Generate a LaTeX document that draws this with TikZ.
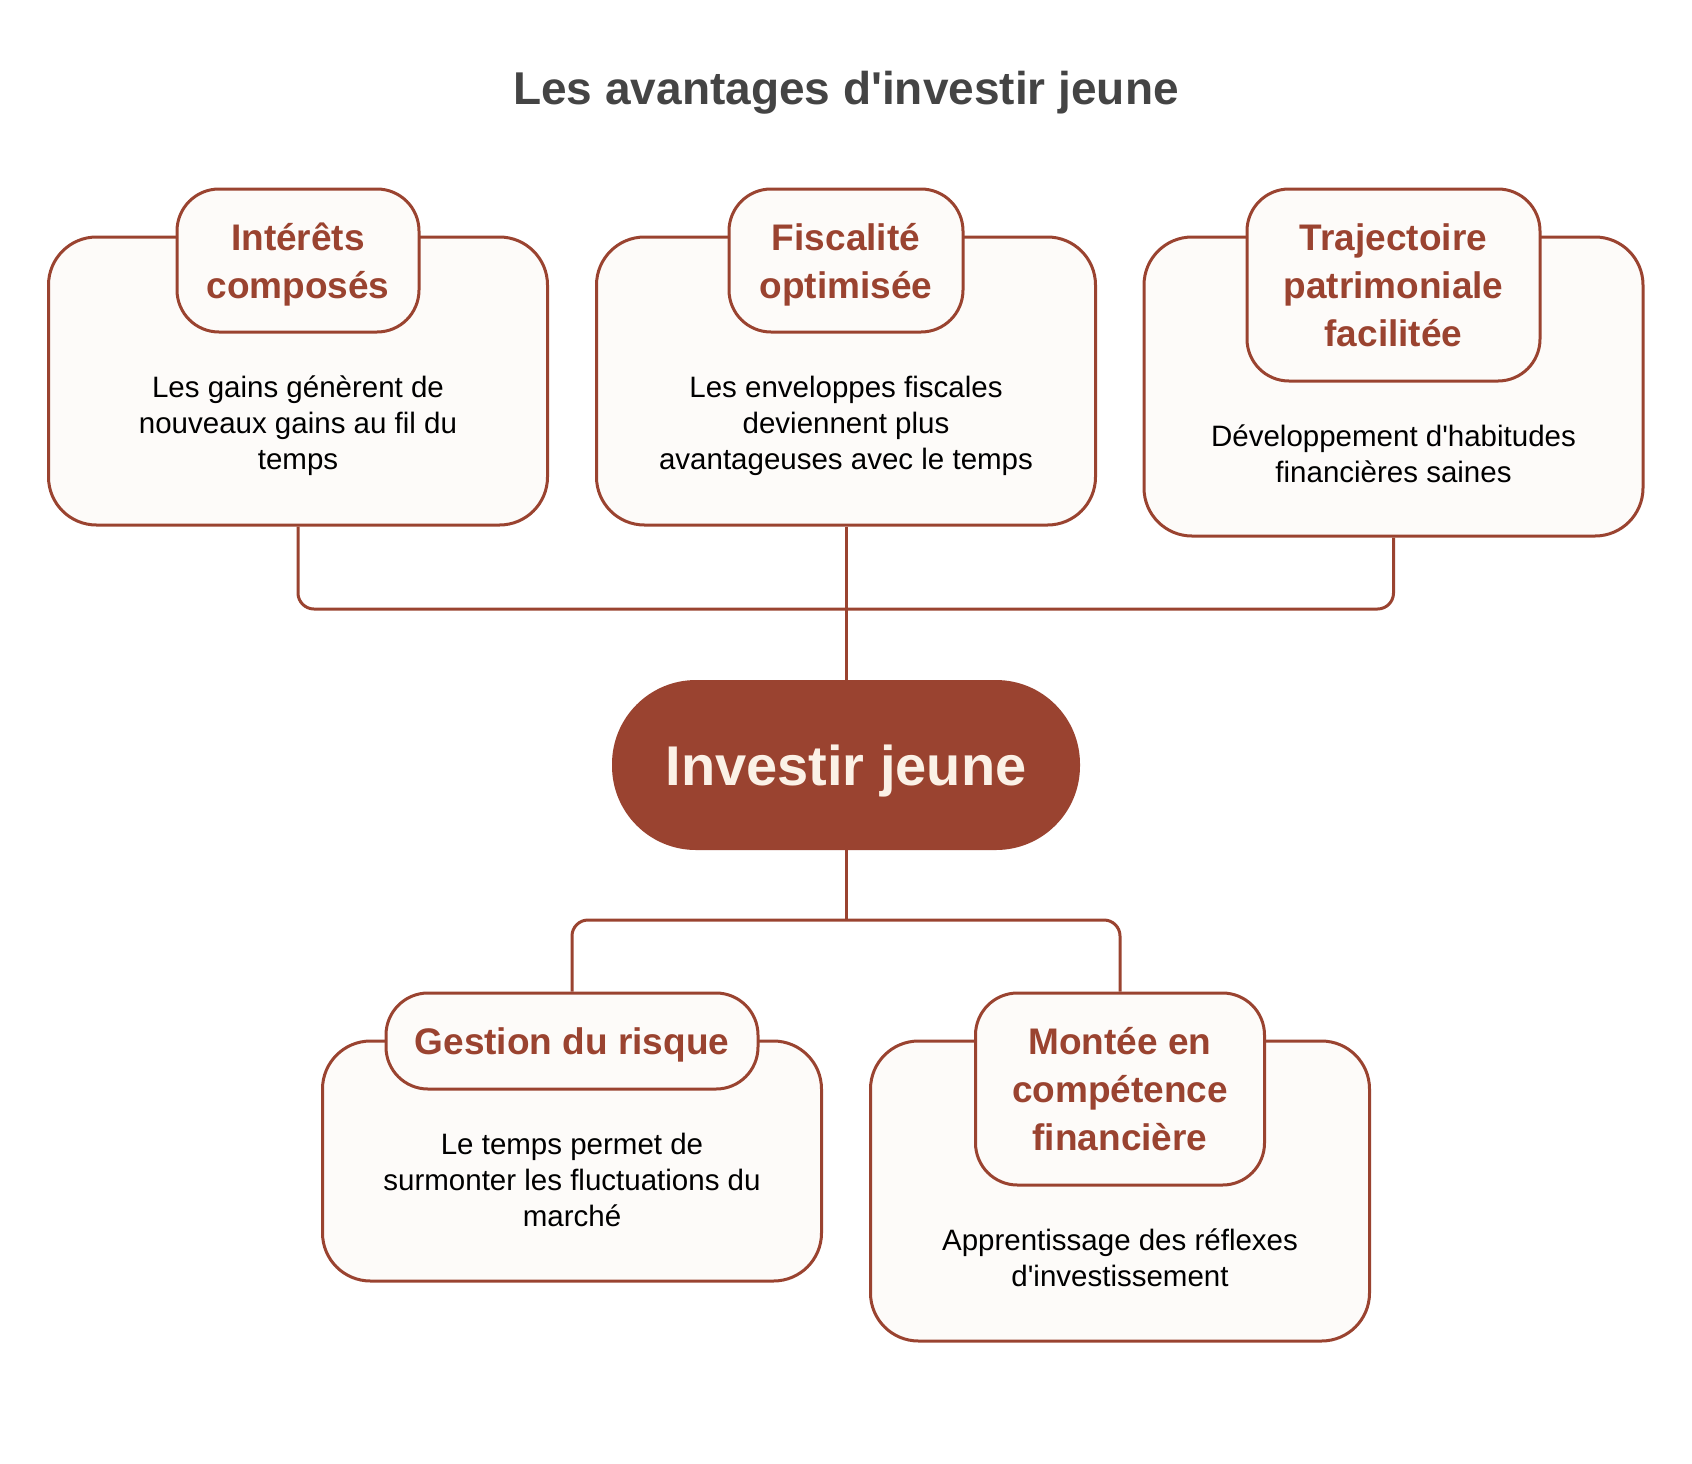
\documentclass[tikz,border=0pt]{standalone}
\usepackage{fontspec}
\setmainfont{Liberation Sans}
\usepackage{xcolor}
\definecolor{rustDraw}{HTML}{9A4330}
\definecolor{cardFill}{HTML}{FDFBF9}
\definecolor{titleGray}{HTML}{444444}
\definecolor{creamText}{HTML}{FBF1E6}
\usetikzlibrary{positioning}
\newcommand{\apos}{\textquotesingle}

\begin{document}
\begin{tikzpicture}[x=0.5pt, y=-0.5pt,
    card/.style={draw=rustDraw, fill=cardFill, line width=1.5pt,
      rounded corners=24pt, inner sep=0pt, minimum width=249.5pt},
    tag/.style={draw=rustDraw, fill=cardFill, line width=1.5pt,
      rounded corners=21pt, inner sep=0pt, align=center, anchor=north,
      text depth=0pt, text=rustDraw,
      font=\fontsize{18.5}{24}\selectfont\bfseries},
    body/.style={align=center, inner sep=0pt, text depth=0pt,
      font=\fontsize{14.75}{18}\selectfont},
    hub/.style={fill=rustDraw, rounded corners=42pt, minimum width=234pt,
      minimum height=85pt, inner sep=0pt, text depth=0pt, text=creamText,
      font=\fontsize{28}{32}\selectfont\bfseries},
    heading/.style={text=titleGray, text depth=0pt,
      font=\fontsize{23}{27}\selectfont\bfseries},
    link/.style={draw=rustDraw, line width=1.5pt, rounded corners=8pt}
  ]
    \useasboundingbox (0,0) rectangle (1692,1463);

    \node[heading] (title) at (846,88) {Les avantages d\apos investir jeune};

    % hub and bus points
    \node[hub] (hub) at (846,765) {Investir jeune};
    \coordinate (topbus) at (846,609);
    \coordinate (botbus) at (846,920);

    % top cards
    \node[card, minimum height=144pt] (interets) at (298,381) {};
    \node[card, minimum height=144pt] (fiscal) at (846,381) {};
    \node[card, minimum height=149.5pt] (trajet) at (1393.5,386.5) {};

    % bottom cards
    \node[card, minimum height=120pt] (risque) at (572,1161) {};
    \node[card, minimum height=150pt] (montee) at (1120,1191) {};

    % connectors
    \draw[link] (interets.south) |- (topbus) -| (trajet.south);
    \draw[link] (fiscal.south) -- (hub.north);
    \draw[link] (hub.south) -- (botbus);

    % tags
    \node[tag, minimum width=121pt, minimum height=71.5pt] (tagInterets)
      at ([yshift=24pt]interets.north) {Intérêts\\composés};
    \node[tag, minimum width=117pt, minimum height=71.5pt] (tagFiscal)
      at ([yshift=24pt]fiscal.north) {Fiscalité\\optimisée};
    \node[tag, minimum width=146.5pt, minimum height=96pt] (tagTrajet)
      at ([yshift=24pt]trajet.north) {Trajectoire\\patrimoniale\\facilitée};
    \node[tag, minimum width=186pt, minimum height=48pt] (tagRisque)
      at ([yshift=24pt]risque.north) {Gestion du risque};
    \node[tag, minimum width=144.5pt, minimum height=96pt] (tagMontee)
      at ([yshift=24pt]montee.north) {Montée en\\compétence\\financière};

    \draw[link] (tagRisque.north) |- (botbus) -| (tagMontee.north);

    % body texts
    \node[body] (txtInterets) at (298,423)
      {Les gains génèrent de\\nouveaux gains au fil du\\temps};
    \node[body] (txtFiscal) at (846,423)
      {Les enveloppes fiscales\\deviennent plus\\avantageuses avec le temps};
    \node[body] (txtTrajet) at (1393.5,454)
      {Développement d\apos habitudes\\financières saines};
    \node[body] (txtRisque) at (572,1180)
      {Le temps permet de\\surmonter les fluctuations du\\marché};
    \node[body] (txtMontee) at (1120,1258)
      {Apprentissage des réflexes\\d\apos investissement};
  \end{tikzpicture}
\end{document}
